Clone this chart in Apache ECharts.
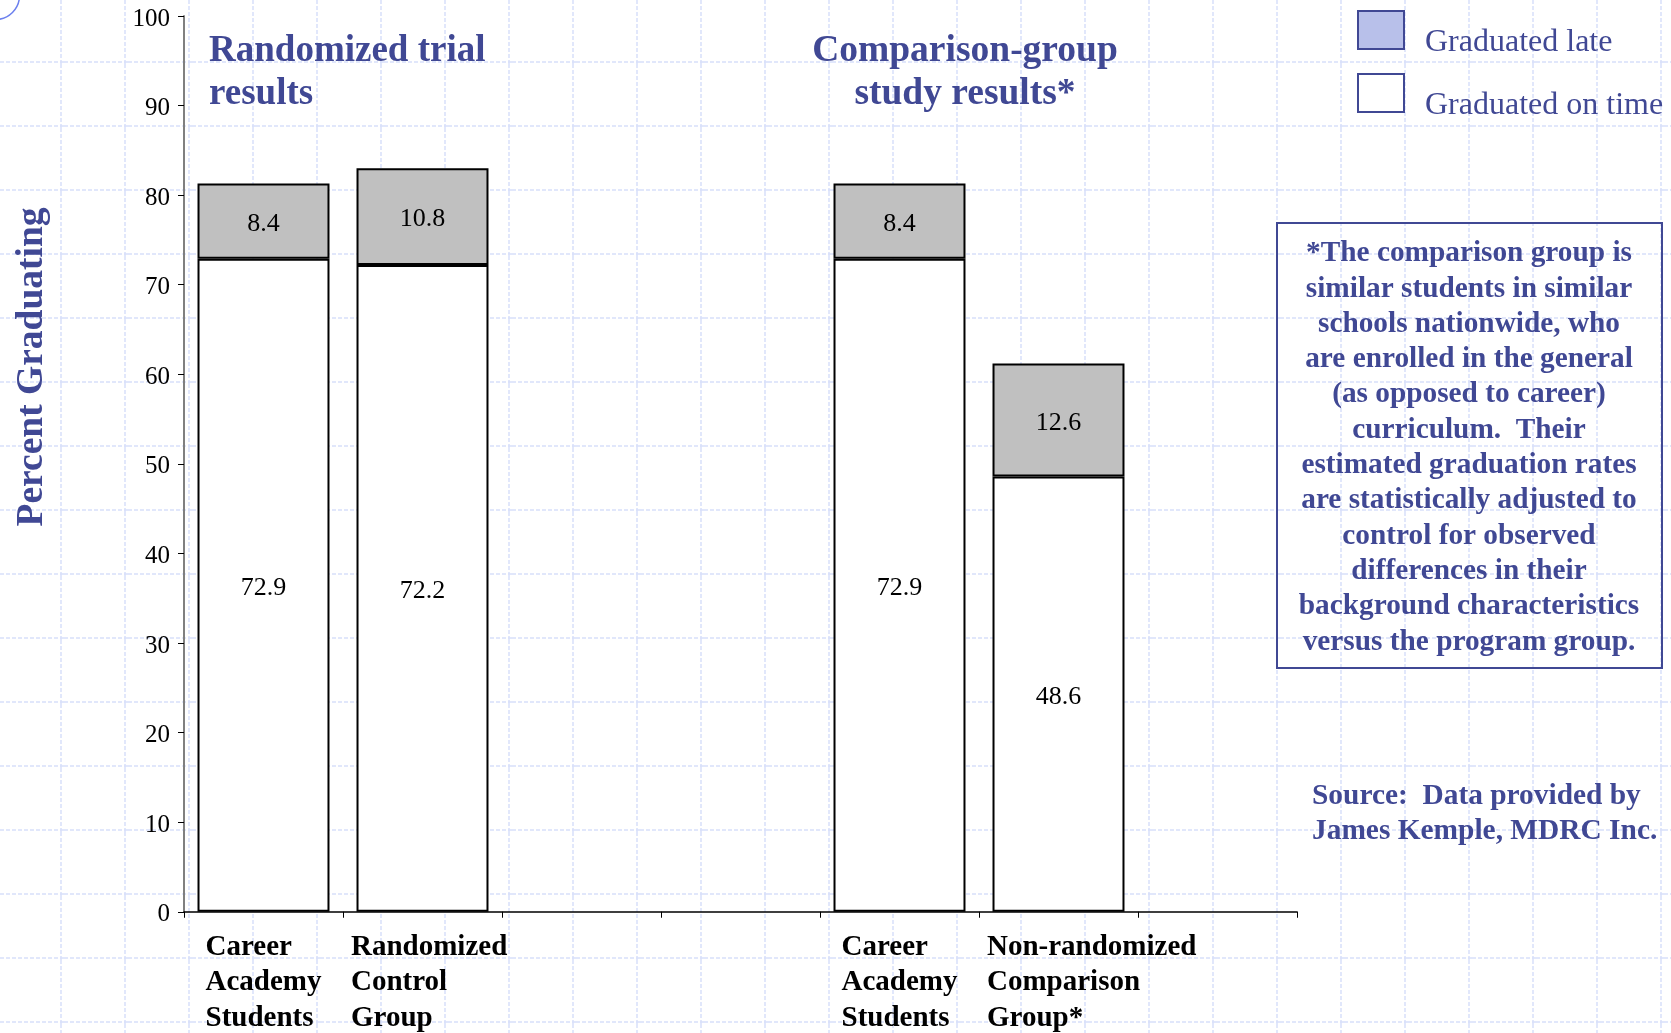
<!DOCTYPE html>
<html>
<head>
<meta charset="utf-8">
<script src="https://cdn.jsdelivr.net/npm/echarts@6/dist/echarts.min.js"></script>
<style>
html, body { margin: 0; padding: 0; background: #ffffff; }
#chart {
  width: 1671px; height: 1033px;
  background-color: #ffffff;
  background-image: url("data:image/svg+xml;utf8,<svg xmlns='http://www.w3.org/2000/svg' width='64' height='64'><path d='M61 0V64M0 62H64' stroke='%23d8e0fa' stroke-width='1.5' stroke-dasharray='4 2' fill='none'/></svg>");
  background-repeat: repeat;
}
</style>
</head>
<body>
<div id="chart"></div>
<script>
// ---- data ----
const categories = [
  'Career\nAcademy\nStudents',
  'Randomized\nControl\nGroup',
  '',
  '',
  'Career\nAcademy\nStudents',
  'Non-randomized\nComparison\nGroup*',
  ''
];
const onTime = [72.9, 72.2, null, null, 72.9, 48.6, null];
const late   = [8.4, 10.8, null, null, 8.4, 12.6, null];
const seriesNames = ['Graduated on time', 'Graduated late'];
const yTicks = { min: 0, max: 100, interval: 10 };
const yAxisTitle = 'Percent Graduating';
const panelTitles = ['Randomized trial\nresults', 'Comparison-group\nstudy results*'];
const noteText = '*The comparison group is\nsimilar students in similar\nschools nationwide, who\nare enrolled in the general\n(as opposed to career)\ncurriculum.  Their\nestimated graduation rates\nare statistically adjusted to\ncontrol for observed\ndifferences in their\nbackground characteristics\nversus the program group.';
const sourceText = 'Source:  Data provided by\nJames Kemple, MDRC Inc.';

// ---- styles ----
const SERIF = '"Liberation Serif", "Times New Roman", "DejaVu Serif", serif';
const BLUE = '#404894';
const legendItems = [
  { name: seriesNames[1], itemStyle: { color: '#b8c0ea', borderColor: BLUE, borderWidth: 2 } },
  { name: seriesNames[0], itemStyle: { color: '#ffffff', borderColor: BLUE, borderWidth: 2 } }
];

const chart = echarts.init(document.getElementById('chart'), null, { renderer: 'canvas' });

const option = {
  backgroundColor: 'transparent',
  animation: false,
  grid: { left: 184, right: 374, top: 16, bottom: 121, containLabel: false },
  legend: [
    { // swatches
      orient: 'vertical', left: 1357, top: 10, padding: 0,
      itemWidth: 46, itemHeight: 38, itemGap: 23,
      icon: 'rect', selectedMode: false,
      data: legendItems,
      formatter: function () { return ''; },
      textStyle: { fontSize: 10 }
    },
    { // texts
      orient: 'vertical', left: 1374, top: 24, padding: 0,
      itemWidth: 46, itemHeight: 38, itemGap: 28,
      icon: 'none', selectedMode: false,
      data: legendItems.map(function (d) { return { name: d.name }; }),
      textStyle: { fontFamily: SERIF, fontSize: 32, color: BLUE }
    }
  ],
  xAxis: {
    type: 'category',
    data: categories,
    boundaryGap: true,
    axisLine: { show: true, lineStyle: { color: '#000', width: 1.5 } },
    axisTick: { show: true, length: 6, interval: 0, lineStyle: { color: '#000', width: 1 } },
    axisLabel: {
      interval: 0,
      margin: 18,
      align: 'center',
      verticalAlign: 'top',
      formatter: function (v, i) {
        if (!v) return '';
        const key = (i === 0 || i === 4) ? 'p' : 'q';
        return v.split('\n').map(function (l) { return '{' + key + '|' + l + '}'; }).join('\n');
      },
      rich: {
        p: { width: 116, align: 'left', fontFamily: SERIF, fontWeight: 'bold', fontSize: 29, lineHeight: 35.5, color: '#000' },
        q: { width: 143, align: 'left', fontFamily: SERIF, fontWeight: 'bold', fontSize: 29, lineHeight: 35.5, color: '#000' }
      }
    },
    splitLine: { show: false }
  },
  yAxis: {
    type: 'value',
    min: yTicks.min,
    max: yTicks.max,
    interval: yTicks.interval,
    axisLine: { show: true, lineStyle: { color: '#808080', width: 2 } },
    axisTick: { show: true, length: 6, lineStyle: { color: '#000', width: 1 } },
    axisLabel: {
      margin: 14,
      formatter: function (v) { return '{v|' + v + '}'; },
      rich: { v: { fontFamily: SERIF, fontSize: 25, color: '#000', padding: [6, 0, 0, 0] } }
    },
    splitLine: { show: false }
  },
  series: [
    {
      name: seriesNames[0],
      type: 'bar',
      stack: 'grad',
      data: onTime,
      barCategoryGap: '17%',
      itemStyle: { color: '#ffffff', borderColor: '#000', borderWidth: 2 },
      label: { show: true, position: 'inside', offset: [0, 3], fontFamily: SERIF, fontSize: 26, color: '#000', formatter: '{c}' }
    },
    {
      name: seriesNames[1],
      type: 'bar',
      stack: 'grad',
      data: late,
      barCategoryGap: '17%',
      itemStyle: { color: '#c0c0c0', borderColor: '#000', borderWidth: 2 },
      label: { show: true, position: 'inside', offset: [0, 3], fontFamily: SERIF, fontSize: 26, color: '#000', formatter: '{c}' }
    }
  ],
  graphic: [
    {
      type: 'circle', left: -31, top: -31, silent: true,
      shape: { r: 24 },
      style: { fill: 'none', stroke: '#6c80ee', lineWidth: 1.5 }
    },
    {
      type: 'text', x: 32, y: 367, rotation: Math.PI / 2, silent: true,
      style: { text: yAxisTitle, fill: BLUE, fontFamily: SERIF, fontWeight: 'bold', fontSize: 37.5, align: 'center', verticalAlign: 'middle' }
    },
    {
      type: 'text', x: 209, y: 30, silent: true,
      style: { text: panelTitles[0], fill: BLUE, fontFamily: SERIF, fontWeight: 'bold', fontSize: 37, lineHeight: 43, align: 'left', verticalAlign: 'top' }
    },
    {
      type: 'text', x: 965, y: 30, silent: true,
      style: { text: panelTitles[1], fill: BLUE, fontFamily: SERIF, fontWeight: 'bold', fontSize: 37.5, lineHeight: 43, align: 'center', verticalAlign: 'top' }
    },
    {
      type: 'rect', silent: true,
      shape: { x: 1277, y: 223, width: 385, height: 445 },
      style: { fill: 'none', stroke: BLUE, lineWidth: 2 }
    },
    {
      type: 'text', x: 1469, y: 236, silent: true,
      style: { text: noteText, fill: BLUE, fontFamily: SERIF, fontWeight: 'bold', fontSize: 29.3, lineHeight: 35.3, align: 'center', verticalAlign: 'top' }
    },
    {
      type: 'text', x: 1312, y: 779, silent: true,
      style: { text: sourceText, fill: BLUE, fontFamily: SERIF, fontWeight: 'bold', fontSize: 29.4, lineHeight: 35, align: 'left', verticalAlign: 'top' }
    }
  ]
};

chart.setOption(option);
</script>
</body>
</html>
